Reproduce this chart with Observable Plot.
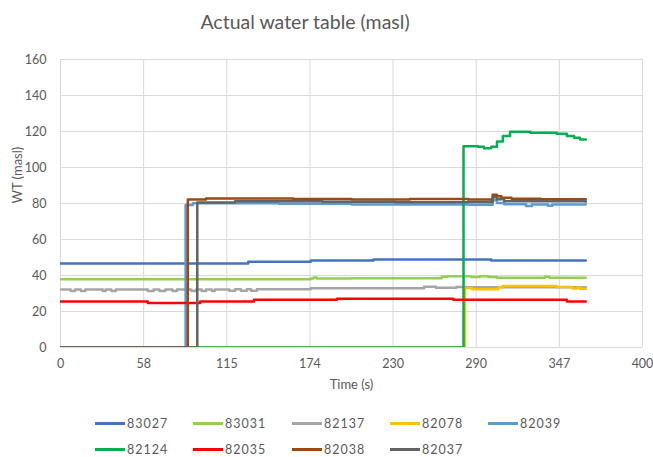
<!DOCTYPE html>
<html>
<head>
<meta charset="utf-8">
<script src="https://cdn.jsdelivr.net/npm/d3@7"></script>
<script src="https://cdn.jsdelivr.net/npm/@observablehq/plot@0.6"></script>
<style>
  html, body { margin: 0; padding: 0; background: #fff; }
  #chart { position: relative; width: 653px; height: 457px; font-family: Lato, "Open Sans", sans-serif; color: #595959; }
  #title { position: absolute; left: 0; top: 9px; width: 610px; text-align: center; font-size: 19.5px; line-height: 26px; }
  #plot { position: absolute; left: 0; top: 38px; }
  .item { position: absolute; height: 14px; display: flex; align-items: center; font-size: 12.5px; letter-spacing: 1px; white-space: nowrap; }
  .swatch { width: 30px; height: 3px; margin-right: 2px; }
</style>
</head>
<body>
<div id="chart">
  <div id="title">Actual water table (masl)</div>
  <div id="plot"></div>
</div>
<script>
// Axis ticks
const xTickValues = [0, 1, 2, 3, 4, 5, 6, 7].map(i => i * 400 / 7);
const xTickLabels = ["0", "58", "115", "174", "230", "290", "347", "400"];
const yTickValues = [0, 20, 40, 60, 80, 100, 120, 140, 160];

// Well names and their line colours
const wells = ["83027", "83031", "82137", "82078", "82039", "82124", "82035", "82038", "82037"];
const colors = ["#4472C4", "#92D050", "#A5A5A5", "#FFC000", "#5B9BD5", "#00B050", "#FF0000", "#9E480E", "#636363"];

// Water table readings per well: time (s) and level (masl), held until the next reading
const t83027 = [0, 129, 172, 215, 296, 361];
const v83027 = [46.7, 47.6, 48.3, 48.9, 48.3, 48.3];

const t83031 = [0, 172, 174, 176, 200, 262, 266, 282, 288, 294, 300, 333, 336, 361];
const v83031 = [37.9, 38.3, 38.9, 38.3, 38.5, 39.3, 39.6, 39.2, 39.6, 39.1, 38.8, 39.3, 38.8, 38.8];

const t82137 = [0, 7, 10, 14, 17, 29, 31, 35, 38, 60, 64, 68, 72, 77, 80, 90, 93, 97, 100, 104, 106, 116, 120, 124, 128, 131, 135, 172, 250, 258, 272, 280, 361];
const v82137 = [32.2, 31.4, 32.2, 31.4, 32.2, 31.4, 32.2, 31.4, 32.2, 31.4, 32.2, 31.4, 32.2, 31.4, 32.2, 31.4, 32.2, 31.4, 32.2, 31.4, 32.2, 31.5, 32.3, 31.5, 32.3, 31.5, 32.4, 32.9, 33.8, 33.2, 33.6, 33.5, 33.5];

const t82078 = [0, 278, 283, 301, 304, 341, 352, 355, 357, 361];
const v82078 = [0, 33.0, 32.3, 33.5, 34.2, 33.6, 32.8, 33.3, 32.6, 32.6];

const t82039 = [0, 86, 91, 150, 200, 280, 297, 300, 305, 320, 324, 335, 338, 361];
const v82039 = [0, 79.2, 80.2, 79.8, 79.5, 79.3, 81.8, 80.3, 79.6, 78.6, 79.5, 78.7, 79.4, 79.4];

const t82124 = [0, 277, 287, 291, 296, 300, 304, 309, 323, 341, 348, 353, 357, 361];
const v82124 = [0, 111.8, 111.5, 110.7, 111.5, 114.5, 117.5, 119.8, 119.3, 118.7, 117.5, 116.5, 115.6, 115.6];

const t82035 = [0, 60, 96, 133, 190, 270, 348, 361];
const v82035 = [25.6, 24.7, 25.6, 26.5, 27.1, 26.5, 25.5, 25.5];

const t82038 = [0, 87.5, 100, 160, 200, 240, 280, 297, 300, 303, 310, 330, 361];
const v82038 = [0, 82.2, 82.8, 82.5, 82.2, 82.5, 82.2, 84.8, 84.0, 83.2, 82.6, 82.4, 82.3];

const t82037 = [0, 94, 120, 180, 230, 280, 297, 300, 305, 361];
const v82037 = [0, 80.6, 81.2, 81.0, 80.7, 80.9, 83.5, 82.4, 81.3, 81.0];

const times = [t83027, t83031, t82137, t82078, t82039, t82124, t82035, t82038, t82037];
const levels = [v83027, v83031, v82137, v82078, v82039, v82124, v82035, v82038, v82037];

const series = wells.map((w, i) => times[i].map((t, j) => ({well: w, t, wt: levels[i][j]})));

const grid = {stroke: "#d9d9d9", strokeOpacity: 1, strokeWidth: 1};

const chart = Plot.plot({
  width: 653,
  height: 362,
  marginLeft: 60,
  marginRight: 11,
  marginTop: 21,
  marginBottom: 53,
  x: {domain: [0, 400]},
  y: {domain: [0, 160]},
  style: {fontFamily: "Lato, 'Open Sans', sans-serif", fontSize: "12.5px", color: "#595959", background: "white"},
  marks: [
    Plot.gridX(xTickValues, grid),
    Plot.gridY(yTickValues, grid),
    Plot.axisX(xTickValues, {
      tickSize: 0, tickPadding: 12, label: null, fill: "#595959",
      tickFormat: d => xTickLabels[Math.round(d * 7 / 400)]
    }),
    Plot.axisY(yTickValues, {tickSize: 0, tickPadding: 14, label: null, fill: "#595959"}),
    // lines are clipped to the plot area, so readings at zero sit half-hidden on the baseline
    ...series.map((s, i) => Plot.line(s, {
      x: "t", y: "wt", stroke: colors[i], strokeWidth: 2.5, curve: "step-after", clip: true
    })),
    Plot.text(["Time (s)"], {frameAnchor: "bottom", dy: 41, fill: "#595959", fontSize: 13}),
    Plot.text(["WT (masl)"], {frameAnchor: "left", dx: -43, rotate: -90, fill: "#595959", fontSize: 13})
  ]
});
document.getElementById("plot").appendChild(chart);

// Legend: two rows of five and four entries
const legendX = [95, 193, 292, 390, 488];
const legendY = [423, 449];
const root = document.getElementById("chart");
wells.forEach((w, i) => {
  const item = document.createElement("div");
  item.className = "item";
  item.style.left = legendX[i % 5] + "px";
  item.style.top = (legendY[Math.floor(i / 5)] - 7) + "px";
  const sw = document.createElement("div");
  sw.className = "swatch";
  sw.style.background = colors[i];
  const label = document.createElement("span");
  label.textContent = w;
  item.appendChild(sw);
  item.appendChild(label);
  root.appendChild(item);
});
</script>
</body>
</html>
